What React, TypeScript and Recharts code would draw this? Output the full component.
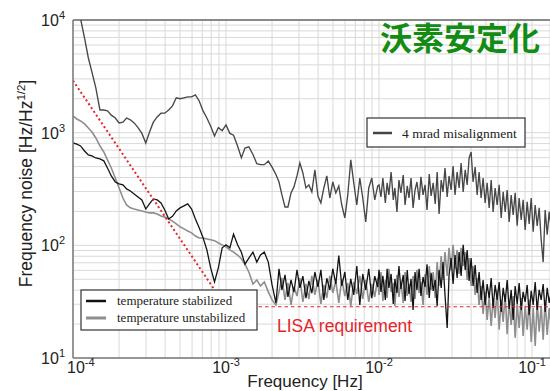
import React from 'react';
import { LineChart, Line, XAxis, YAxis, CartesianGrid, ReferenceLine } from 'recharts';

// Frequency grid [Hz]: coarse at low frequency, denser where the spectra get noisy
const lowFreqs = [
  1.00e-4, 1.06e-4, 1.12e-4, 1.19e-4, 1.26e-4, 1.33e-4, 1.41e-4, 1.50e-4, 1.59e-4, 1.68e-4,
  1.78e-4, 1.89e-4, 2.00e-4, 2.12e-4, 2.24e-4, 2.37e-4, 2.51e-4, 2.66e-4, 2.82e-4, 2.99e-4,
  3.16e-4, 3.35e-4, 3.55e-4, 3.76e-4, 3.98e-4, 4.22e-4, 4.47e-4, 4.73e-4, 5.01e-4, 5.31e-4,
  5.62e-4, 5.96e-4, 6.31e-4, 6.68e-4, 7.08e-4, 7.50e-4, 7.94e-4, 8.41e-4, 8.91e-4, 9.44e-4,
  1.00e-3, 1.06e-3, 1.12e-3, 1.19e-3, 1.26e-3, 1.33e-3, 1.41e-3, 1.50e-3, 1.59e-3, 1.68e-3,
  1.78e-3, 1.89e-3, 2.00e-3, 2.12e-3,
];
const midFreqs = [
  2.22e-3, 2.32e-3, 2.43e-3, 2.54e-3, 2.66e-3, 2.78e-3, 2.91e-3, 3.04e-3, 3.18e-3, 3.33e-3,
  3.48e-3, 3.64e-3, 3.81e-3, 3.99e-3, 4.17e-3, 4.36e-3, 4.56e-3, 4.77e-3, 4.99e-3, 5.22e-3,
  5.46e-3, 5.71e-3, 5.98e-3, 6.25e-3, 6.54e-3, 6.84e-3, 7.16e-3, 7.49e-3, 7.83e-3, 8.19e-3,
  8.57e-3, 8.97e-3, 9.38e-3, 9.81e-3,
];
const highFreqs = [
  0.0100, 0.0103, 0.0106, 0.0110, 0.0113, 0.0116, 0.0120, 0.0124, 0.0127, 0.0131,
  0.0135, 0.0139, 0.0144, 0.0148, 0.0153, 0.0157, 0.0162, 0.0167, 0.0172, 0.0177,
  0.0183, 0.0188, 0.0194, 0.0200, 0.0206, 0.0213, 0.0219, 0.0226, 0.0233, 0.0240,
  0.0247, 0.0255, 0.0262, 0.0270, 0.0279, 0.0287, 0.0296, 0.0305, 0.0314, 0.0324,
  0.0334, 0.0344, 0.0355, 0.0366, 0.0377, 0.0388, 0.0400, 0.0412, 0.0425, 0.0438,
  0.0451, 0.0465, 0.0479, 0.0494, 0.0509, 0.0525, 0.0541, 0.0557, 0.0574, 0.0592,
  0.0610, 0.0629, 0.0648, 0.0668, 0.0688, 0.0709, 0.0731, 0.0753, 0.0776, 0.0800,
  0.0824, 0.0850, 0.0875, 0.0902, 0.0930, 0.0958, 0.0988, 0.1018, 0.1049, 0.1081,
  0.1114, 0.1148, 0.1183, 0.1219, 0.1257, 0.1295, 0.1335,
];

// 4 mrad misalignment [Hz/Hz^1/2]
const misLow = [
  22000, 14700, 10300, 6900, 4600, 3450, 2500, 1590, 1590, 1560,
  1430, 1350, 1220, 1240, 1350, 1300, 1220, 1110, 985, 810,
  1010, 1240, 1380, 1490, 1490, 1590, 1730, 2040, 2000, 2040,
  2080, 2080, 2160, 1910, 1560, 1350, 1140, 935, 1110, 1040,
  1170, 985, 950, 760, 600, 730, 750, 640, 530, 520,
  520, 560, 495, 425,
];
const misMid = [
  365, 280, 219, 219, 292, 330, 413, 538, 439, 323,
  344, 298, 467, 274, 238, 323, 413, 263, 365, 292,
  337, 228, 175, 280, 573, 358, 228, 396, 263, 161,
  323, 396, 253, 337,
];
const misHigh = [
  344, 269, 396, 238, 358, 280, 448, 253, 323, 198,
  380, 292, 421, 228, 337, 263, 396, 215, 310, 365,
  253, 405, 280, 344, 206, 430, 274, 358, 233, 448,
  190, 380, 298, 486, 269, 413, 310, 506, 280, 448,
  323, 538, 298, 467, 344, 596, 674, 365, 496, 280,
  448, 263, 396, 238, 358, 215, 380, 198, 323, 228,
  344, 175, 298, 198, 310, 161, 280, 186, 292, 149,
  263, 168, 253, 137, 243, 155, 263, 132, 228, 149,
  215, 112, 71, 206, 124, 198, 143,
];

// temperature stabilized
const stabLow = [
  810, 790, 762, 688, 634, 621, 596, 584, 562, 486,
  413, 365, 351, 344, 317, 304, 286, 269, 253, 210,
  233, 258, 253, 238, 206, 171, 181, 202, 215, 224,
  233, 210, 171, 143, 117, 91, 63, 47.3, 63, 95,
  101, 95, 126, 101, 87, 68, 77, 87, 71, 82,
  87, 71, 44.5, 30.8,
];
const stabMid = [
  62, 40.2, 54.6, 34.8, 49.3, 38.5, 60.5, 41.9, 53.3, 34,
  48.3, 37.7, 58, 42.7, 60.5, 32.8, 51, 40.2, 62, 45.4,
  81, 43.6, 58, 32.8, 50.3, 36.3, 65.6, 29.6, 55.7, 40.2,
  62, 34, 53.3, 42.7,
];
const stabHigh = [
  60.5, 38.6, 53.5, 32.8, 62, 41.9, 55.7, 30.2, 50.3, 37.8,
  65.6, 41.0, 54.6, 32.1, 60.5, 37.0, 50.3, 26.7, 58, 40.2,
  62, 35.5, 52.4, 42.7, 68, 34.1, 57, 39.4, 49.3, 29.0,
  60.5, 41.9, 71, 36.3, 18.5, 54.6, 77, 45.4, 82, 51.3,
  87, 53.5, 101, 60.5, 91, 48.3, 77, 43.6, 67, 37.8,
  58, 32.8, 49.3, 29.6, 45.4, 34.1, 51.3, 27.8, 44.5, 32.8,
  47.3, 25.6, 41.9, 31.5, 49.3, 27.3, 40.2, 21.8, 43.6, 30.2,
  46.3, 26.7, 38.6, 31.5, 44.5, 24.1, 39.4, 29.6, 47.3, 26.7,
  40.2, 32.8, 45.4, 25.6, 41.9, 30.8, 38.6,
];

// temperature unstabilized
const unstabLow = [
  1407, 1323, 1270, 1195, 1101, 1014, 897, 762, 674, 573,
  486, 396, 323, 263, 228, 215, 210, 206, 202, 198,
  194, 194, 190, 182, 178, 171, 164, 155, 146, 140,
  134, 129, 121, 116, 116, 114, 112, 110, 105, 101,
  97, 91, 87, 82, 76, 68, 58, 45.4, 49.3, 43.6,
  47.3, 38.6, 32.8, 29.6,
];
const unstabMid = [
  38.6, 51.3, 32.8, 46.3, 29.6, 42.7, 35.5, 51.3, 31.5, 45.4,
  33.4, 53.5, 36.3, 49.3, 30.2, 44.5, 34.1, 53.5, 37.8, 48.3,
  30.8, 50.3, 35.5, 46.3, 29.0, 47.3, 37.0, 53.5, 33.4, 49.3,
  31.5, 45.4, 34.8, 51.3,
];
const unstabHigh = [
  36.3, 58, 32.1, 49.3, 34.1, 62, 38.6, 46.3, 29.0, 54.6,
  34.8, 48.3, 30.8, 58, 35.5, 45.4, 31.5, 53.5, 33.4, 60.5,
  37.8, 47.3, 29.6, 55.7, 36.3, 65.6, 40.2, 58, 34.1, 71,
  43.6, 80.5, 49.3, 87, 53.5, 95, 60.5, 101, 62, 91,
  55.7, 95, 65.6, 87, 49.3, 77, 43.6, 65.6, 36.3, 51.3,
  29.6, 43.6, 24.6, 38.6, 21.8, 35.5, 19.3, 34.1, 22.7, 40.2,
  17.8, 32.8, 20.9, 37.0, 16.3, 31.5, 19.7, 35.5, 15.1, 30.2,
  18.5, 34.1, 15.7, 29.0, 17.8, 32.8, 13.9, 27.8, 12.8, 31.5,
  17.1, 29.0, 14.5, 32.8, 16.0, 27.8, 18.5,
];

// LISA requirement: f^-2 slope down to 1 mHz, then flat
const lisaSlopeFreqs = [1e-4, 1e-3];
const lisaSlopeVals = [2900, 28.5];
const lisaFlatFreqs = [1e-3, 0.1335];
const lisaFlatVals = [28.5, 28.5];

// Axis ticks (decades get labels, the rest only grid lines)
const xTicks = [
  1e-4, 2e-4, 3e-4, 4e-4, 5e-4, 6e-4, 7e-4, 8e-4, 9e-4,
  1e-3, 2e-3, 3e-3, 4e-3, 5e-3, 6e-3, 7e-3, 8e-3, 9e-3,
  1e-2, 2e-2, 3e-2, 4e-2, 5e-2, 6e-2, 7e-2, 8e-2, 9e-2,
  1e-1,
];
const yTicks = [
  10, 20, 30, 40, 50, 60, 70, 80, 90,
  100, 200, 300, 400, 500, 600, 700, 800, 900,
  1000, 2000, 3000, 4000, 5000, 6000, 7000, 8000, 9000,
  10000,
];

const zip = (freqs: number[], vals: number[]) => freqs.map((f, i) => ({ f, v: vals[i] }));
const allFreqs = [...lowFreqs, ...midFreqs, ...highFreqs];
const misData = zip(allFreqs, [...misLow, ...misMid, ...misHigh]);
const stabData = zip(allFreqs, [...stabLow, ...stabMid, ...stabHigh]);
const unstabData = zip(allFreqs, [...unstabLow, ...unstabMid, ...unstabHigh]);
const lisaSlope = zip(lisaSlopeFreqs, lisaSlopeVals);
const lisaFlat = zip(lisaFlatFreqs, lisaFlatVals);

const SANS = '"Liberation Sans", Arial, Helvetica, sans-serif';
const SERIF = '"Liberation Serif", "Times New Roman", serif';

const decade = (v: number) => {
  const e = Math.log10(v);
  const r = Math.round(e);
  return Math.abs(e - r) < 1e-6 ? r : null;
};

const XTick = (props: any) => {
  const { x, y, payload } = props;
  const r = decade(payload.value);
  if (r === null) return null;
  const first = r === -4;
  return (
    <text x={first ? x - 6 : x} y={y + 15} textAnchor={first ? 'start' : 'middle'}
      fontFamily={SANS} fontSize={16} fill="#222">
      10<tspan dy={-7} fontSize={11}>{String(r)}</tspan>
    </text>
  );
};

const YTick = (props: any) => {
  const { x, y, payload } = props;
  const r = decade(payload.value);
  if (r === null) return null;
  return (
    <text x={x - 8} y={y + 6} textAnchor="end" fontFamily={SANS} fontSize={16} fill="#222">
      10<tspan dy={-7} fontSize={11}>{String(r)}</tspan>
    </text>
  );
};

export default function App() {
  return (
    <div style={{ position: 'absolute', left: 0, top: 0, width: 550, height: 391, overflow: 'hidden', background: '#fff' }}>
      <LineChart width={550} height={391} margin={{ top: 20, right: 0, bottom: 3, left: 0 }}>
        <CartesianGrid stroke="#d9d9d9" strokeWidth={1} />
        <XAxis dataKey="f" type="number" scale="log" domain={[1e-4, 0.1311]} allowDataOverflow
          ticks={xTicks} interval={0} tick={<XTick />} tickLine={false} tickSize={0} tickMargin={0}
          height={30} axisLine={{ stroke: '#7a7a7a', strokeWidth: 1.5 }} />
        <YAxis dataKey="v" type="number" scale="log" domain={[10, 10000]} allowDataOverflow
          ticks={yTicks} interval={0} tick={<YTick />} tickLine={false} tickSize={0} tickMargin={0}
          width={73} axisLine={{ stroke: '#7a7a7a', strokeWidth: 1.5 }} />
        <ReferenceLine y={10000} stroke="#6a6a6a" strokeWidth={1.5} />
        <Line data={misData} dataKey="v" stroke="#474747" strokeWidth={1.35} dot={false} isAnimationActive={false} />
        <Line data={unstabData} dataKey="v" stroke="#8e8e8e" strokeWidth={1.6} dot={false} isAnimationActive={false} />
        <Line data={stabData} dataKey="v" stroke="#141414" strokeWidth={1.3} dot={false} isAnimationActive={false} />
        <Line data={lisaSlope} dataKey="v" stroke="#e3262b" strokeWidth={2} strokeDasharray="2 2.6" dot={false} isAnimationActive={false} />
        <Line data={lisaFlat} dataKey="v" stroke="#e3262b" strokeWidth={1} strokeDasharray="3.5 3" dot={false} isAnimationActive={false} />
      </LineChart>
      <svg width={550} height={391} style={{ position: 'absolute', left: 0, top: 0, pointerEvents: 'none' }}>
        <text x={380} y={50} fontFamily='"Noto Sans CJK JP", "Noto Sans CJK SC", sans-serif' fontWeight={700}
          fontSize={32} fill="#138c13">沃素安定化</text>

        <rect x={367} y={118} width={158} height={29} fill="#fff" stroke="#333" strokeWidth={1.2} />
        <line x1={373} x2={392} y1={133} y2={133} stroke="#444" strokeWidth={2.5} />
        <text x={402} y={137.5} fontFamily={SERIF} fontSize={13.5} fill="#222">4 mrad misalignment</text>

        <rect x={81} y={290} width={176} height={40} fill="#fff" stroke="#333" strokeWidth={1.2} />
        <line x1={86} x2={106} y1={301} y2={301} stroke="#111" strokeWidth={2.5} />
        <text x={117} y={305} fontFamily={SERIF} fontSize={13} fill="#222">temperature stabilized</text>
        <line x1={86} x2={106} y1={318} y2={318} stroke="#8e8e8e" strokeWidth={3} />
        <text x={117} y={322} fontFamily={SERIF} fontSize={13} fill="#222">temperature unstabilized</text>

        <text x={277} y={332} fontFamily={SANS} fontSize={17.5} fill="#e3262b">LISA requirement</text>

        <text x={305} y={387} textAnchor="middle" fontFamily={SANS} fontSize={17} fill="#222">Frequency [Hz]</text>
        <text transform="translate(32, 183.5) rotate(-90)" textAnchor="middle" fontFamily={SANS} fontSize={17.5} fill="#222">
          Frequency noise [Hz/Hz<tspan dy={-7} fontSize={11.5}>1/2</tspan><tspan dy={7}>]</tspan>
        </text>
      </svg>
    </div>
  );
}
